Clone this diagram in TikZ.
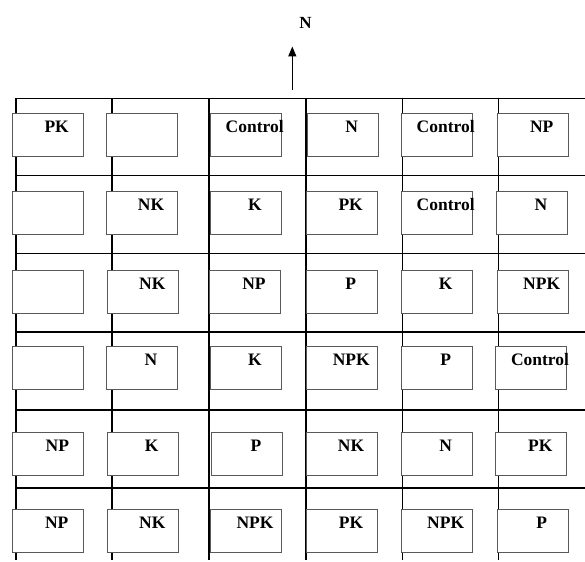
\documentclass[tikz,border=0pt]{standalone}
\usepackage{fontspec}
\setmainfont{Liberation Serif}
\usetikzlibrary{arrows.meta}
\tikzset{
  parcelle/.style={draw=black!65, line width=1pt, fill=white, anchor=north west,
    minimum width=71pt, minimum height=43pt, inner sep=0pt,
    text height=19pt, text depth=24pt,
    font=\fontsize{17.5}{20}\selectfont\bfseries,
    execute at begin node=\setbox0\hbox\bgroup,
    execute at end node=\egroup\makebox[71pt]{\hspace*{18pt}\box0}},
  allee/.style={line width=1.6pt},
  alleefine/.style={line width=0.9pt}
}
\begin{document}
\begin{tikzpicture}[x=1pt, y=-1pt]
\useasboundingbox (0,0) rectangle (585,561);
% Nord
\coordinate (nbas) at (292.3,90.5);
\coordinate (npointe) at (292.3,46.5);
\draw[line width=1.5pt, -{Triangle[width=8pt,length=10pt]}] (nbas) -- (npointe);
\node[font=\fontsize{17}{20}\selectfont\bfseries] (nord) at (305.5,22.5) {N};
% Allees horizontales
\draw[allee] (15,98.5) -- (585,98.5);
\draw[allee] (15,175.7) -- (585,175.7);
\draw[allee] (15,253.3) -- (585,253.3);
\draw[allee] (15,332) -- (585,332);
\draw[allee] (15,410) -- (585,410);
\draw[allee] (15,487.7) -- (585,487.7);
% Allees verticales
\draw[allee] (15.7,98.5) -- (15.7,560);
\draw[allee] (111.7,98.5) -- (111.7,560);
\draw[allee] (209,98.5) -- (209,560);
\draw[allee] (305.7,98.5) -- (305.7,560);
\draw[alleefine] (402.3,98.5) -- (402.3,560);
\draw[alleefine] (498.3,98.5) -- (498.3,560);
% Rang 1
\node[parcelle] (p11) at (11.7,112.7) {PK};
\node[parcelle] (p12) at (106,112.7) {};
\node[parcelle] (p13) at (209.7,112.7) {Control};
\node[parcelle] (p14) at (306.7,112.7) {N};
\node[parcelle] (p15) at (400.7,112.7) {Control};
\node[parcelle] (p16) at (496.7,112.7) {NP};
% Rang 2
\node[parcelle] (p21) at (11.7,191.3) {};
\node[parcelle] (p22) at (106,191.3) {NK};
\node[parcelle] (p23) at (210,191.3) {K};
\node[parcelle] (p24) at (305.7,191.3) {PK};
\node[parcelle] (p25) at (400.7,191.3) {Control};
\node[parcelle] (p26) at (496,191.3) {N};
% Rang 3
\node[parcelle] (p31) at (11.7,269.7) {};
\node[parcelle] (p32) at (107.3,269.7) {NK};
\node[parcelle] (p33) at (209,269.7) {NP};
\node[parcelle] (p34) at (305.7,269.7) {P};
\node[parcelle] (p35) at (400.7,269.7) {K};
\node[parcelle] (p36) at (496.7,269.7) {NPK};
% Rang 4
\node[parcelle] (p41) at (12.3,345.7) {};
\node[parcelle] (p42) at (106,345.7) {N};
\node[parcelle] (p43) at (210,345.7) {K};
\node[parcelle] (p44) at (306.3,345.7) {NPK};
\node[parcelle] (p45) at (400.7,345.7) {P};
\node[parcelle] (p46) at (495,345.7) {Control};
% Rang 5
\node[parcelle] (p51) at (12.3,432) {NP};
\node[parcelle] (p52) at (106.7,432) {K};
\node[parcelle] (p53) at (211,432) {P};
\node[parcelle] (p54) at (306,432) {NK};
\node[parcelle] (p55) at (400.7,432) {N};
\node[parcelle] (p56) at (495.3,432) {PK};
% Rang 6
\node[parcelle] (p61) at (11.7,509) {NP};
\node[parcelle] (p62) at (107.3,509) {NK};
\node[parcelle] (p63) at (210,509) {NPK};
\node[parcelle] (p64) at (306,509) {PK};
\node[parcelle] (p65) at (400.7,509) {NPK};
\node[parcelle] (p66) at (496.7,509) {P};
\end{tikzpicture}
\end{document}
